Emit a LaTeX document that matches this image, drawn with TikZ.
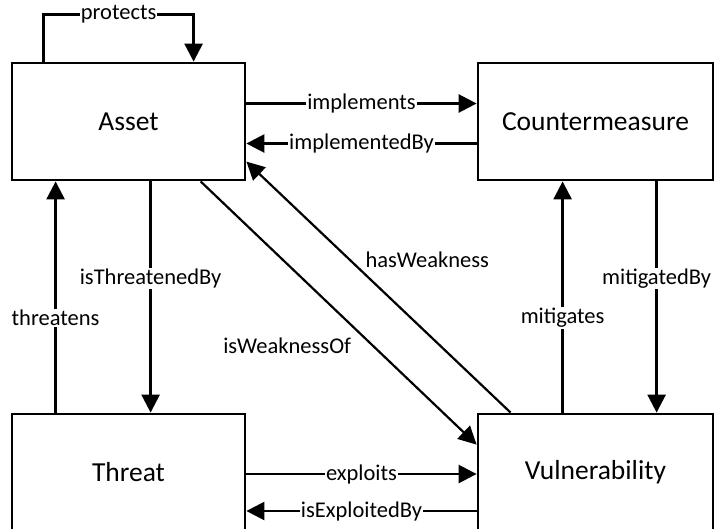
\documentclass[tikz,border=0pt]{standalone}
\usepackage{fontspec}
\setmainfont{Carlito}
\usetikzlibrary{arrows.meta}
\begin{document}
\begin{tikzpicture}[x=1pt,y=-1pt,
  entity/.style={draw,line width=2.8pt,minimum width=233pt,minimum height=117pt,
    inner sep=0pt,font=\fontsize{27.5}{31}\selectfont},
  rel/.style={line width=2.6pt,-{Triangle[length=18pt,width=18pt]}},
  diag/.style={line width=2.2pt,-{Triangle[length=18pt,width=18pt]}},
  lbl/.style={fill=white,inner sep=1pt,font=\fontsize{22.5}{26}\selectfont},
  freelbl/.style={inner sep=1pt,font=\fontsize{22.5}{26}\selectfont}]
\useasboundingbox (0,0) rectangle (714,528);

% the four entities
\node[entity] (asset) at (128.5,121.5) {Asset};
\node[entity,minimum width=235pt] (cm) at (595.5,121.5) {Countermeasure};
\node[entity] (threat) at (128.5,472.5) {Threat};
\node[entity,minimum width=235pt] (vuln) at (595.5,472.5) {Vulnerability};

% self relation on Asset
\draw[rel] ([xshift=33pt]asset.north west) -- ++(0,-47)
  -| node[lbl,pos=0.25] {protects} ([xshift=183pt]asset.north west);

% Asset <-> Countermeasure
\draw[rel] ([yshift=18pt]asset.east) -- node[lbl] {implements} ([yshift=18pt]asset.east -| cm.west);
\draw[rel] ([yshift=-22pt]cm.west) -- node[lbl] {implementedBy} ([yshift=-22pt]cm.west -| asset.east);

% Asset <-> Threat
\draw[rel] ([xshift=45pt]threat.north west) -- node[lbl,pos=0.41] {threatens} ([xshift=45pt]threat.north west |- asset.south);
\draw[rel] ([xshift=140pt]asset.south west) -- node[lbl,pos=0.42] {isThreatenedBy} ([xshift=140pt]asset.south west |- threat.north);

% Countermeasure <-> Vulnerability
\draw[rel] ([xshift=86pt]vuln.north west) -- node[lbl,pos=0.41] {mitigates} ([xshift=86pt]vuln.north west |- cm.south);
\draw[rel] ([xshift=180pt]cm.south west) -- node[lbl,pos=0.42] {mitigatedBy} ([xshift=180pt]cm.south west |- vuln.north);

% Threat <-> Vulnerability
\draw[rel] ([yshift=-1.5pt]threat.east) -- node[lbl] {exploits} ([yshift=-1.5pt]threat.east -| vuln.west);
\draw[rel] ([yshift=-38.5pt]vuln.west) -- node[lbl] {isExploitedBy} ([yshift=-38.5pt]vuln.west -| threat.east);

% Asset <-> Vulnerability (diagonals)
\draw[diag] ([xshift=190pt]asset.south west) -- node[freelbl,pos=0.625,anchor=east,xshift=-20pt] {isWeaknessOf} ([yshift=-32pt]vuln.north west);
\draw[diag] ([xshift=34pt]vuln.north west) -- node[freelbl,pos=0.61,anchor=west,xshift=14pt] {hasWeakness} ([yshift=-100pt]asset.north east);
\end{tikzpicture}
\end{document}
